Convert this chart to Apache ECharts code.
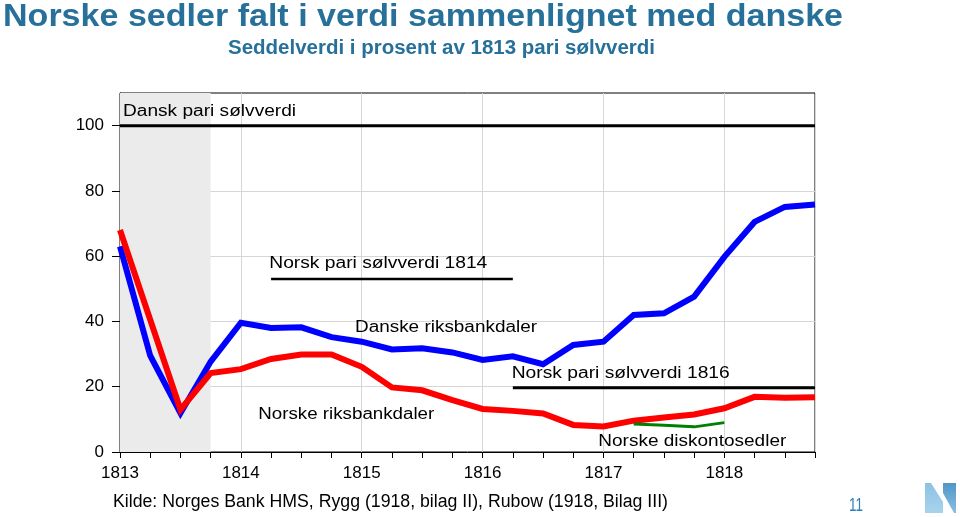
<!DOCTYPE html>
<html><head><meta charset="utf-8">
<script src="https://cdn.jsdelivr.net/npm/echarts@6/dist/echarts.min.js"></script>
<style>html,body{margin:0;padding:0;background:#fff}#c{width:960px;height:517px}</style>
</head><body><div id="c"></div>
<script>
// ---- data ----
const quarters = [1813, 1813.25, 1813.5, 1813.75, 1814, 1814.25, 1814.5, 1814.75,
  1815, 1815.25, 1815.5, 1815.75, 1816, 1816.25, 1816.5, 1816.75,
  1817, 1817.25, 1817.5, 1817.75, 1818, 1818.25, 1818.5, 1818.75];
const danskeRiksbankdaler = [63, 29.5, 11.9, 27.7, 39.6, 38, 38.2, 35.2, 33.8, 31.4, 31.8, 30.5,
  28.2, 29.3, 26.9, 32.8, 33.8, 42, 42.5, 47.6, 59.8, 70.5, 75.1, 75.8];
const norskeRiksbankdaler = [68, 40.5, 13, 24.2, 25.4, 28.5, 29.9, 29.9, 26.1, 19.8, 18.9, 15.9,
  13.2, 12.6, 11.8, 8.3, 7.8, 9.6, 10.6, 11.5, 13.4, 16.9, 16.6, 16.8];
const diskontoQuarters = [1817.25, 1817.5, 1817.75, 1818];
const norskeDiskontosedler = [8.6, 8.2, 7.7, 9.0];
const danskPari = { from: 1813, to: 1818.75, value: 100 };
const norskPari1814 = { from: 1814.25, to: 1816.25, value: 53 };
const norskPari1816 = { from: 1816.25, to: 1818.75, value: 19.7 };
const shadedPeriod = [1813, 1813.75];
const yTicks = [0, 20, 40, 60, 80, 100];
const xYears = [1813, 1814, 1815, 1816, 1817, 1818];
const labels = [
  { text: 'Dansk pari sølvverdi', x: 1813.025, y: 102.5, w: 173 },
  { text: 'Norsk pari sølvverdi 1814', x: 1814.235, y: 56.05, w: 218 },
  { text: 'Danske riksbankdaler', x: 1814.944, y: 36.36, w: 182 },
  { text: 'Norsk pari sølvverdi 1816', x: 1816.241, y: 22.36, w: 218 },
  { text: 'Norske riksbankdaler', x: 1814.144, y: 9.8, w: 176 },
  { text: 'Norske diskontosedler', x: 1816.957, y: 1.44, w: 188 }
];
const titleText = 'Norske sedler falt i verdi sammenlignet med danske';
const subtitleText = 'Seddelverdi i prosent av 1813 pari sølvverdi';
const sourceText = 'Kilde: Norges Bank HMS, Rygg (1918, bilag II), Rubow (1918, Bilag III)';
const pageNo = '11';

// ---- helpers ----
const FF = '"Liberation Sans", Arial, Helvetica, sans-serif';
const cvs = document.createElement('canvas').getContext('2d');
function fit(text, font, target) {
  cvs.font = font;
  return target / cvs.measureText(text).width;
}
function pairs(xs, ys) { return xs.map((x, i) => [x, ys[i]]); }
function refLine(r) { return [[r.from, r.value], [r.to, r.value]]; }
// text element placed by its baseline
function txt(text, size, weight, color, x, baseline, align, targetW, extra) {
  const font = (weight ? weight + ' ' : '') + size + 'px ' + FF;
  return Object.assign({
    type: 'text', x: x, y: baseline - 0.35 * size, z: 10,
    scaleX: targetW ? fit(text, font, targetW) : 1,
    style: { text: text, font: font, fill: color, align: align, verticalAlign: 'middle' }
  }, extra || {});
}

const chart = echarts.init(document.getElementById('c'), null, { renderer: 'canvas' });
const option = {
  animation: false,
  backgroundColor: '#fff',
  grid: { left: 120, right: 145, top: 93, bottom: 65, show: true, borderColor: '#000', borderWidth: 1, backgroundColor: 'transparent' },
  xAxis: [{
    type: 'value', min: 1813, max: 1818.75, interval: 0.25,
    axisLine: { show: true, lineStyle: { color: '#000', width: 1 } },
    axisTick: { show: true, length: 6, lineStyle: { color: '#000' } },
    axisLabel: { color: '#000', fontSize: 17, fontFamily: FF, margin: 13, customValues: xYears,
      formatter: v => (Number.isInteger(v) ? String(v) : '') },
    splitLine: { show: false }
  }, {
    type: 'value', min: 1813, max: 1818.75, interval: 1, position: 'bottom',
    axisLine: { show: false }, axisTick: { show: false }, axisLabel: { show: false },
    splitLine: { show: true, lineStyle: { color: '#d6d6d6', width: 1 } }
  }],
  yAxis: {
    type: 'value', min: 0, max: 110, interval: 20,
    axisLine: { show: true, lineStyle: { color: '#000' } },
    axisTick: { show: true, length: 8, lineStyle: { color: '#000' }, customValues: yTicks },
    axisLabel: { color: '#000', fontSize: 17, fontFamily: FF, margin: 16, customValues: yTicks,
      formatter: v => (v % 20 === 0 && v <= 100 ? String(v) : '') },
    splitLine: { show: true, lineStyle: { color: '#d6d6d6', width: 1 } }
  },
  series: [
    { type: 'line', name: 'shade', data: [], silent: true,
      markArea: { silent: true, itemStyle: { color: '#ebebeb' },
        data: [[{ xAxis: shadedPeriod[0] }, { xAxis: shadedPeriod[1] }]] } },
    { type: 'line', name: 'Dansk pari', data: refLine(danskPari), symbol: 'none', lineStyle: { color: '#000', width: 3 }, z: 3 },
    { type: 'line', name: 'Norsk pari 1814', data: refLine(norskPari1814), symbol: 'none', lineStyle: { color: '#000', width: 2.5 }, z: 3 },
    { type: 'line', name: 'Norsk pari 1816', data: refLine(norskPari1816), symbol: 'none', lineStyle: { color: '#000', width: 3 }, z: 3 },
    { type: 'line', name: 'Danske riksbankdaler', data: pairs(quarters, danskeRiksbankdaler), symbol: 'none',
      lineStyle: { color: '#0000ff', width: 6, join: 'miter' }, z: 4 },
    { type: 'line', name: 'Norske riksbankdaler', data: pairs(quarters, norskeRiksbankdaler), symbol: 'none',
      lineStyle: { color: '#ff0000', width: 6, join: 'miter' }, z: 5 },
    { type: 'line', name: 'Norske diskontosedler', data: pairs(diskontoQuarters, norskeDiskontosedler), symbol: 'none',
      lineStyle: { color: '#008000', width: 3 }, z: 6 }
  ]
};
chart.setOption(option);

const g = [];
g.push(txt(titleText, 32, 'bold', '#26709a', 3, 28.5, 'left', 840));
g.push(txt(subtitleText, 20, 'bold', '#26709a', 441.5, 55, 'center', 427));
g.push(txt(sourceText, 18, '', '#000', 113, 508, 'left', 555));
g.push(txt(pageNo, 18, '', '#2f7fb8', 849, 512, 'left', 14));
labels.forEach(l => {
  const p = chart.convertToPixel({ seriesIndex: 4 }, [l.x, l.y]);
  g.push(txt(l.text, 16, '', '#000', p[0], p[1], 'left', l.w));
});
// logo
g.push({ type: 'polygon', shape: { points: [[925, 483], [931, 483], [943, 502], [943, 513], [925, 513]] },
  style: { fill: new echarts.graphic.LinearGradient(0, 0, 0, 1, [{ offset: 0, color: '#8cc2e3' }, { offset: 1, color: '#a9d3ec' }]) } });
g.push({ type: 'polygon', shape: { points: [[943, 483], [956, 483], [956, 513], [954, 513], [943, 493]] },
  style: { fill: new echarts.graphic.LinearGradient(0, 0, 0, 1, [{ offset: 0, color: '#4f96c8' }, { offset: 1, color: '#8bc0e2' }]) } });
chart.setOption({ graphic: g });
</script>
</body></html>
